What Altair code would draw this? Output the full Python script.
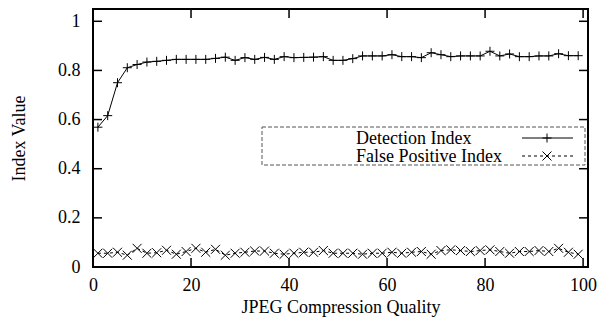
import altair as alt
import pandas as pd

# JPEG quality settings (odd values 1..99)
quality = [1, 3, 5, 7, 9, 11, 13, 15, 17, 19, 21, 23, 25, 27, 29, 31, 33, 35, 37, 39,
           41, 43, 45, 47, 49, 51, 53, 55, 57, 59, 61, 63, 65, 67, 69, 71, 73, 75, 77, 79,
           81, 83, 85, 87, 89, 91, 93, 95, 97, 99]

detection_index = [0.569, 0.616, 0.750, 0.811, 0.824, 0.834, 0.837, 0.841, 0.845, 0.845,
                   0.845, 0.845, 0.849, 0.854, 0.841, 0.852, 0.845, 0.853, 0.845, 0.856,
                   0.852, 0.853, 0.854, 0.856, 0.841, 0.841, 0.848, 0.859, 0.859, 0.859,
                   0.864, 0.856, 0.856, 0.852, 0.872, 0.864, 0.856, 0.859, 0.859, 0.859,
                   0.878, 0.859, 0.867, 0.856, 0.856, 0.859, 0.859, 0.868, 0.860, 0.860]

false_positive_index = [0.056, 0.056, 0.060, 0.048, 0.076, 0.056, 0.058, 0.068, 0.052, 0.063,
                        0.076, 0.060, 0.072, 0.048, 0.056, 0.060, 0.065, 0.065, 0.056, 0.052,
                        0.056, 0.060, 0.060, 0.067, 0.056, 0.056, 0.056, 0.052, 0.056, 0.056,
                        0.060, 0.056, 0.060, 0.063, 0.052, 0.067, 0.070, 0.067, 0.063, 0.067,
                        0.070, 0.063, 0.056, 0.063, 0.063, 0.067, 0.063, 0.076, 0.060, 0.052]

series_names = ["Detection Index", "False Positive Index"]
x_ticks = [0, 20, 40, 60, 80, 100]
y_ticks = [0, 0.2, 0.4, 0.6, 0.8, 1]

W, H = 495, 258
FONT = "Liberation Serif"
TICK = 9
PLUS = "M-1,0L1,0M0,-1L0,1"
CROSS = "M-1,-1L1,1M-1,1L1,-1"

det_df = pd.DataFrame({"quality": quality, "value": detection_index})
fp_df = pd.DataFrame({"quality": quality, "value": false_positive_index})
xt_df = pd.DataFrame({"quality": x_ticks})
yt_df = pd.DataFrame({"value": y_ticks})
leg_df = pd.DataFrame({"series": series_names})

xs = alt.Scale(domain=[0, 101], nice=False, zero=False)
ys = alt.Scale(domain=[0, 1.05], nice=False, zero=False)

x_axis = alt.Axis(values=x_ticks, tickSize=0, domain=False, grid=False,
                  labelFont=FONT, labelFontSize=18, labelColor="black", labelPadding=9,
                  labelFlush=False,
                  title="JPEG Compression Quality", titleFont=FONT, titleFontSize=18,
                  titleFontWeight="normal", titleColor="black", titlePadding=4)
y_axis = alt.Axis(values=y_ticks, tickSize=0, domain=False, grid=False, format=".1~f",
                  labelFont=FONT, labelFontSize=18, labelColor="black", labelPadding=13,
                  labelFlush=False,
                  title="Index Value", titleFont=FONT, titleFontSize=18,
                  titleFontWeight="normal", titleColor="black", titlePadding=29)

X = alt.X("quality:Q", scale=xs, axis=x_axis)
Y = alt.Y("value:Q", scale=ys, axis=y_axis)

det_line = alt.Chart(det_df).mark_line(color="black", strokeWidth=1).encode(x=X, y=Y)
det_pts = alt.Chart(det_df).mark_point(shape=PLUS, size=81, filled=False,
                                       color="black", strokeWidth=1, opacity=1).encode(x=X, y=Y)
fp_line = alt.Chart(fp_df).mark_line(color="black", strokeWidth=1,
                                     strokeDash=[3, 3]).encode(x=X, y=Y)
fp_pts = alt.Chart(fp_df).mark_point(shape=CROSS, size=81, filled=False,
                                     color="black", strokeWidth=1, opacity=1).encode(x=X, y=Y)

# inward tick marks on all four sides
tick_style = dict(color="black", strokeWidth=1.5)
xt_bottom = alt.Chart(xt_df).mark_rule(**tick_style).encode(
    x=X, y=alt.value(H), y2=alt.value(H - TICK))
xt_top = alt.Chart(xt_df).mark_rule(**tick_style).encode(
    x=X, y=alt.value(0), y2=alt.value(TICK))
yt_left = alt.Chart(yt_df).mark_rule(**tick_style).encode(
    y=Y, x=alt.value(0), x2=alt.value(TICK))
yt_right = alt.Chart(yt_df).mark_rule(**tick_style).encode(
    y=Y, x=alt.value(W), x2=alt.value(W - TICK))

# key box
key_box = alt.Chart(leg_df.head(1)).mark_rect(
    fillOpacity=0, stroke="#555555", strokeWidth=1, strokeDash=[4, 2]).encode(
    x=alt.value(169), x2=alt.value(492), y=alt.value(118), y2=alt.value(156))

row1 = leg_df[leg_df["series"] == series_names[0]]
row2 = leg_df[leg_df["series"] == series_names[1]]
S1, S2 = 129, 147   # sample centres
B1, B2 = 135, 153   # text baselines

key_text1 = alt.Chart(row1).mark_text(align="left", baseline="alphabetic", font=FONT,
                                      fontSize=18, color="black").encode(
    text="series:N", x=alt.value(263), y=alt.value(B1))
key_text2 = alt.Chart(row2).mark_text(align="left", baseline="alphabetic", font=FONT,
                                      fontSize=18, color="black").encode(
    text="series:N", x=alt.value(263), y=alt.value(B2))
key_line1 = alt.Chart(row1).mark_rule(color="black", strokeWidth=1).encode(
    x=alt.value(429), x2=alt.value(480), y=alt.value(S1))
key_line2 = alt.Chart(row2).mark_rule(color="black", strokeWidth=1,
                                      strokeDash=[3, 3]).encode(
    x=alt.value(429), x2=alt.value(480), y=alt.value(S2))
key_pt1 = alt.Chart(row1).mark_point(shape=PLUS, size=81, filled=False, color="black",
                                     strokeWidth=1, opacity=1).encode(
    x=alt.value(454), y=alt.value(S1))
key_pt2 = alt.Chart(row2).mark_point(shape=CROSS, size=81, filled=False, color="black",
                                     strokeWidth=1, opacity=1).encode(
    x=alt.value(454), y=alt.value(S2))

chart = alt.layer(
    det_line, det_pts, fp_line, fp_pts,
    xt_bottom, xt_top, yt_left, yt_right,
    key_box, key_text1, key_text2, key_line1, key_line2, key_pt1, key_pt2,
).properties(
    width=W, height=H,
    autosize=alt.AutoSizeParams(type="none"),
    padding={"left": 93, "top": 9, "right": 9, "bottom": 55},
    background="white",
).configure_view(stroke="black", strokeWidth=2)

chart.save("out.html", embed_options={"renderer": "svg", "actions": False})
